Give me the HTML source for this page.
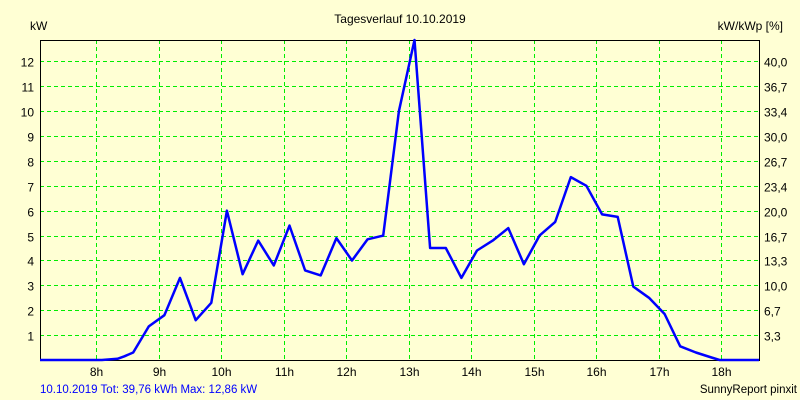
<!DOCTYPE html>
<html><head><meta charset="utf-8"><style>
html,body{margin:0;padding:0;background:#ffffd4;}
svg{display:block;font-family:"Liberation Sans",sans-serif;font-size:12px;}
</style></head><body>
<svg id="chart" width="800" height="400" viewBox="0 0 800 400">
<rect x="0" y="0" width="800" height="400" fill="#ffffd4"/>
<text x="400" y="23" text-anchor="middle">Tagesverlauf 10.10.2019</text>
<text x="30" y="30">kW</text>
<text x="783" y="30" text-anchor="end">kW/kWp [%]</text>
<text x="40" y="393" fill="#0000ff" font-size="11.5">10.10.2019 Tot: 39,76 kWh Max: 12,86 kW</text>
<text x="797" y="393" text-anchor="end" font-size="11.5">SunnyReport pinxit</text>
<g id="grid"></g>
<g id="axes"></g>
<g id="series"></g>
</svg>
<script>
const hourTicks = [8,9,10,11,12,13,14,15,16,17,18];
const kwTicks = [1,2,3,4,5,6,7,8,9,10,11,12];
const pctLabels = ["3,3","6,7","10,0","13,3","16,7","20,0","23,4","26,7","30,0","33,4","36,7","40,0"];
const times = [7.1,8.09,8.34,8.45,8.59,8.84,9.09,9.34,9.59,9.84,10.09,10.34,10.59,10.84,11.09,11.34,11.59,11.84,12.09,12.34,12.59,12.84,13.09,13.34,13.59,13.84,14.09,14.34,14.59,14.84,15.09,15.34,15.59,15.84,16.09,16.34,16.59,16.84,17.09,17.34,17.59,17.84,17.97,18.6];
const power = [0,0,0.05,0.15,0.3,1.35,1.8,3.3,1.6,2.3,6.0,3.45,4.8,3.8,5.4,3.6,3.4,4.9,4.0,4.85,5.0,10.0,12.86,4.5,4.5,3.3,4.4,4.8,5.3,3.85,5.0,5.55,7.35,7.0,5.85,5.75,2.95,2.5,1.85,0.55,0.3,0.1,0,0];

const L=40,R=759,T=40,B=360;
const xMin=7.1,xMax=18.6,yMax=12.86;
const xs=t=>L+(t-xMin)/(xMax-xMin)*(R-L);
const ys=v=>B-v/yMax*(B-T);
const NS="http://www.w3.org/2000/svg";
function mk(tag,attrs,parent){const e=document.createElementNS(NS,tag);for(const k in attrs)e.setAttribute(k,attrs[k]);parent.appendChild(e);return e;}
const grid=document.getElementById('grid'),axes=document.getElementById('axes'),series=document.getElementById('series');
hourTicks.forEach(h=>{
  const x=Math.round(xs(h))+0.5;
  const l=mk('line',{x1:x,x2:x,y1:T,y2:B,stroke:'#00ee00','stroke-dasharray':'4 3'},grid);
  
  
  const t=mk('text',{x:x,y:B+16,'text-anchor':'middle'},axes);t.textContent=h+'h';
  
  
});
kwTicks.forEach((v,i)=>{
  const y=Math.round(ys(v))+0.5;
  const l=mk('line',{x1:L,x2:R,y1:y,y2:y,stroke:'#00ee00','stroke-dasharray':'4 3'},grid);
  
  
  const t=mk('text',{x:L-6,y:y+5,'text-anchor':'end'},axes);t.textContent=v;
  
  
  const t2=mk('text',{x:R+5,y:y+5},axes);t2.textContent=pctLabels[i];
  
  
});
const fr=mk('path',{d:`M${L+0.5},${T+0.5}H${R+0.5}V${B+0.5}H${L+0.5}Z`,fill:'none',stroke:'#000','stroke-width':1},axes);


const pts=times.map((t,i)=>xs(t).toFixed(1)+','+ys(power[i]).toFixed(1)).join(' ');
const pl=mk('polyline',{points:pts,fill:'none',stroke:'#0000ff','stroke-width':2.5,'stroke-linejoin':'round'},series);


</script>
</body></html>
